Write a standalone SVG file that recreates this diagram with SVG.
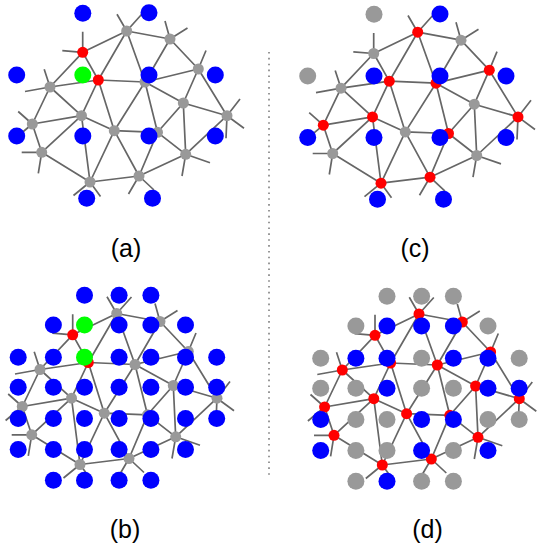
<svg xmlns="http://www.w3.org/2000/svg" xmlns:xlink="http://www.w3.org/1999/xlink" width="540" height="545" viewBox="0 0 540 545">
<style>
.e{stroke:#666;stroke-width:1.7;fill:none}
.g{fill:#999}
.r{fill:#f00}
.b{fill:#00f}
.gr{fill:#0f0}
.lbl{font-family:"Liberation Sans",Arial,sans-serif;font-size:25px;fill:#000;text-anchor:middle}
.sep{stroke:#777;stroke-width:1.5;stroke-dasharray:1.6 4.25}
</style>
<defs>
<path id="mesh" class="e" d="M82.7 52.3L126.7 31M126.7 31L170 39M126.7 31L98.3 80M126.7 31L145 82M170 39L198.3 69M170 39L145 82M82.7 52.3L98.3 80M82.7 52.3L50 87M50 87L98.3 80M98.3 80L145 82M98.3 80L81.5 115.7M98.3 80L114.3 130.7M50 87L81.5 115.7M50 87L32.3 124M145 82L198.3 69M145 82L183.3 103M145 82L114.3 130.7M145 82L157.5 132.3M198.3 69L183.3 103M198.3 69L227 115.7M183.3 103L227 115.7M183.3 103L157.5 132.3M183.3 103L185.7 154.3M227 115.7L185.7 154.3M81.5 115.7L32.3 124M81.5 115.7L114.3 130.7M81.5 115.7L41.7 152.3M81.5 115.7L90 182M32.3 124L41.7 152.3M114.3 130.7L157.5 132.3M114.3 130.7L90 182M114.3 130.7L139 176M157.5 132.3L139 176M157.5 132.3L185.7 154.3M41.7 152.3L90 182M90 182L139 176M185.7 154.3L139 176M126.7 31L117 14.3M126.7 31L141.5 14.5M170 39L165 21M170 39L187.5 28M82.7 52.3L82.7 31.7M82.7 52.3L62.3 50.7M198.3 69L206 50.5M50 87L44.2 69.2M50 87L25 91.5M32.3 124L18.2 111.5M32.3 124L15.6 138M227 115.7L240 99M227 115.7L244 128.3M227 115.7L226 138.3M41.7 152.3L21.7 152.3M41.7 152.3L38.3 173.3M185.7 154.3L210 162.7M185.7 154.3L182 176M90 182L73.5 195.5M90 182L100.5 196.5M139 176L128.5 194M139 176L154 190"/>
</defs>

<line class="sep" x1="269" y1="52" x2="269" y2="478"/>

<!-- Panel (a) -->
<g id="panel-a">
<g id="a-connectors"><use xlink:href="#mesh" href="#mesh"/></g>
<g id="a-mesh-nodes">
<circle id="a-A" class="g" cx="126.7" cy="31" r="5.5"/>
<circle id="a-B" class="g" cx="170" cy="39" r="5.5"/>
<circle id="a-R1" class="r" cx="82.7" cy="52.3" r="5.5"/>
<circle id="a-R2" class="r" cx="98.3" cy="80" r="5.5"/>
<circle id="a-C" class="g" cx="198.3" cy="69" r="5.5"/>
<circle id="a-D" class="g" cx="50" cy="87" r="5.5"/>
<circle id="a-E" class="g" cx="145" cy="82" r="5.5"/>
<circle id="a-F" class="g" cx="183.3" cy="103" r="5.5"/>
<circle id="a-G" class="g" cx="81.5" cy="115.7" r="5.5"/>
<circle id="a-H" class="g" cx="32.3" cy="124" r="5.5"/>
<circle id="a-I" class="g" cx="114.3" cy="130.7" r="5.5"/>
<circle id="a-J" class="g" cx="157.5" cy="132.3" r="5.5"/>
<circle id="a-K" class="g" cx="227" cy="115.7" r="5.5"/>
<circle id="a-L" class="g" cx="41.7" cy="152.3" r="5.5"/>
<circle id="a-M" class="g" cx="185.7" cy="154.3" r="5.5"/>
<circle id="a-N" class="g" cx="90" cy="182" r="5.5"/>
<circle id="a-O" class="g" cx="139" cy="176" r="5.5"/>
</g>
<g id="a-points">
<circle class="b" cx="82.8" cy="13.3" r="8.5"/>
<circle class="b" cx="149" cy="12.8" r="8.5"/>
<circle class="b" cx="16.7" cy="75" r="8.5"/>
<circle class="gr" cx="82.8" cy="75" r="8.5"/>
<circle class="b" cx="149" cy="75" r="8.5"/>
<circle class="b" cx="215.3" cy="75" r="8.5"/>
<circle class="b" cx="16.7" cy="136" r="8.5"/>
<circle class="b" cx="82.8" cy="136" r="8.5"/>
<circle class="b" cx="149" cy="136" r="8.5"/>
<circle class="b" cx="215.3" cy="136" r="8.5"/>
<circle class="b" cx="86.7" cy="198.3" r="8.5"/>
<circle class="b" cx="152.5" cy="198.3" r="8.5"/>
</g>
<text class="lbl" x="126" y="257">(a)</text>
</g>

<!-- Panel (c) -->
<g id="panel-c">
<g id="c-connectors"><use xlink:href="#mesh" href="#mesh" transform="translate(291 1.2)"/></g>
<g id="c-mesh-nodes" transform="translate(291 1.2)">
<circle id="c-A" class="r" cx="126.7" cy="31" r="5.5"/>
<circle id="c-B" class="g" cx="170" cy="39" r="5.5"/>
<circle id="c-R1" class="g" cx="82.7" cy="52.3" r="5.5"/>
<circle id="c-R2" class="r" cx="98.3" cy="80" r="5.5"/>
<circle id="c-C" class="r" cx="198.3" cy="69" r="5.5"/>
<circle id="c-D" class="g" cx="50" cy="87" r="5.5"/>
<circle id="c-E" class="r" cx="145" cy="82" r="5.5"/>
<circle id="c-F" class="g" cx="183.3" cy="103" r="5.5"/>
<circle id="c-G" class="r" cx="81.5" cy="115.7" r="5.5"/>
<circle id="c-H" class="r" cx="32.3" cy="124" r="5.5"/>
<circle id="c-I" class="g" cx="114.3" cy="130.7" r="5.5"/>
<circle id="c-J" class="r" cx="157.5" cy="132.3" r="5.5"/>
<circle id="c-K" class="r" cx="227" cy="115.7" r="5.5"/>
<circle id="c-L" class="g" cx="41.7" cy="152.3" r="5.5"/>
<circle id="c-M" class="g" cx="185.7" cy="154.3" r="5.5"/>
<circle id="c-N" class="r" cx="90" cy="182" r="5.5"/>
<circle id="c-O" class="r" cx="139" cy="176" r="5.5"/>
</g>
<g id="c-points">
<circle class="g" cx="374" cy="14.3" r="8.5"/>
<circle class="b" cx="440" cy="14" r="8.5"/>
<circle class="g" cx="307.7" cy="76" r="8.5"/>
<circle class="b" cx="374" cy="76" r="8.5"/>
<circle class="b" cx="440" cy="76" r="8.5"/>
<circle class="b" cx="506" cy="76" r="8.5"/>
<circle class="b" cx="307.7" cy="137.5" r="8.5"/>
<circle class="b" cx="374" cy="137.5" r="8.5"/>
<circle class="b" cx="440" cy="137.5" r="8.5"/>
<circle class="b" cx="506" cy="137.5" r="8.5"/>
<circle class="b" cx="377.5" cy="199.3" r="8.5"/>
<circle class="b" cx="443.5" cy="199.3" r="8.5"/>
</g>
<text class="lbl" x="415" y="257">(c)</text>
</g>

<!-- Panel (b) -->
<g id="panel-b">
<g id="b-connectors"><use xlink:href="#mesh" href="#mesh" transform="translate(-10 282.5)"/></g>
<g id="b-mesh-nodes" transform="translate(-10 282.5)">
<circle id="b-A" class="g" cx="126.7" cy="31" r="5.5"/>
<circle id="b-B" class="g" cx="170" cy="39" r="5.5"/>
<circle id="b-R1" class="r" cx="82.7" cy="52.3" r="5.5"/>
<circle id="b-R2" class="r" cx="98.3" cy="80" r="5.5"/>
<circle id="b-C" class="g" cx="198.3" cy="69" r="5.5"/>
<circle id="b-D" class="g" cx="50" cy="87" r="5.5"/>
<circle id="b-E" class="g" cx="145" cy="82" r="5.5"/>
<circle id="b-F" class="g" cx="183.3" cy="103" r="5.5"/>
<circle id="b-G" class="g" cx="81.5" cy="115.7" r="5.5"/>
<circle id="b-H" class="g" cx="32.3" cy="124" r="5.5"/>
<circle id="b-I" class="g" cx="114.3" cy="130.7" r="5.5"/>
<circle id="b-J" class="g" cx="157.5" cy="132.3" r="5.5"/>
<circle id="b-K" class="g" cx="227" cy="115.7" r="5.5"/>
<circle id="b-L" class="g" cx="41.7" cy="152.3" r="5.5"/>
<circle id="b-M" class="g" cx="185.7" cy="154.3" r="5.5"/>
<circle id="b-N" class="g" cx="90" cy="182" r="5.5"/>
<circle id="b-O" class="g" cx="139" cy="176" r="5.5"/>
</g>
<g id="b-points">
<circle class="b" cx="84.5" cy="295.2" r="8.5"/><circle class="b" cx="119.1" cy="295.2" r="8.5"/><circle class="b" cx="150.9" cy="295.2" r="8.5"/>
<circle class="b" cx="53.4" cy="325" r="8.5"/><circle class="gr" cx="84.5" cy="325" r="8.5"/><circle class="b" cx="119.1" cy="325" r="8.5"/><circle class="b" cx="150.9" cy="325" r="8.5"/><circle class="b" cx="185.5" cy="325" r="8.5"/>
<circle class="b" cx="18.2" cy="357.3" r="8.5"/><circle class="b" cx="53.4" cy="357.3" r="8.5"/><circle class="gr" cx="84.5" cy="357.3" r="8.5"/><circle class="b" cx="119.1" cy="357.3" r="8.5"/><circle class="b" cx="150.9" cy="357.3" r="8.5"/><circle class="b" cx="185.5" cy="357.3" r="8.5"/><circle class="b" cx="216.7" cy="357.3" r="8.5"/>
<circle class="b" cx="18.2" cy="387.3" r="8.5"/><circle class="b" cx="53.4" cy="387.3" r="8.5"/><circle class="b" cx="84.5" cy="387.3" r="8.5"/><circle class="b" cx="119.1" cy="387.3" r="8.5"/><circle class="b" cx="150.9" cy="387.3" r="8.5"/><circle class="b" cx="185.5" cy="387.3" r="8.5"/><circle class="b" cx="216.7" cy="387.3" r="8.5"/>
<circle class="b" cx="18.2" cy="418.5" r="8.5"/><circle class="b" cx="53.4" cy="418.5" r="8.5"/><circle class="b" cx="84.5" cy="418.5" r="8.5"/><circle class="b" cx="119.1" cy="418.5" r="8.5"/><circle class="b" cx="150.9" cy="418.5" r="8.5"/><circle class="b" cx="185.5" cy="418.5" r="8.5"/><circle class="b" cx="216.7" cy="418.5" r="8.5"/>
<circle class="b" cx="18.2" cy="449.5" r="8.5"/><circle class="b" cx="53.4" cy="449.5" r="8.5"/><circle class="b" cx="84.5" cy="449.5" r="8.5"/><circle class="b" cx="119.1" cy="449.5" r="8.5"/><circle class="b" cx="150.9" cy="449.5" r="8.5"/><circle class="b" cx="185.5" cy="449.5" r="8.5"/>
<circle class="b" cx="53.4" cy="480.3" r="8.5"/><circle class="b" cx="84.5" cy="480.3" r="8.5"/><circle class="b" cx="119.1" cy="480.3" r="8.5"/><circle class="b" cx="150.9" cy="480.3" r="8.5"/>
</g>
<text class="lbl" x="125" y="538">(b)</text>
</g>

<!-- Panel (d) -->
<g id="panel-d">
<g id="d-connectors"><use xlink:href="#mesh" href="#mesh" transform="translate(292.3 283)"/></g>
<g id="d-mesh-nodes" transform="translate(292.3 283)">
<circle id="d-A" class="r" cx="126.7" cy="31" r="5.5"/>
<circle id="d-B" class="r" cx="170" cy="39" r="5.5"/>
<circle id="d-R1" class="r" cx="82.7" cy="52.3" r="5.5"/>
<circle id="d-R2" class="r" cx="98.3" cy="80" r="5.5"/>
<circle id="d-C" class="r" cx="198.3" cy="69" r="5.5"/>
<circle id="d-D" class="r" cx="50" cy="87" r="5.5"/>
<circle id="d-E" class="r" cx="145" cy="82" r="5.5"/>
<circle id="d-F" class="r" cx="183.3" cy="103" r="5.5"/>
<circle id="d-G" class="r" cx="81.5" cy="115.7" r="5.5"/>
<circle id="d-H" class="r" cx="32.3" cy="124" r="5.5"/>
<circle id="d-I" class="r" cx="114.3" cy="130.7" r="5.5"/>
<circle id="d-J" class="r" cx="157.5" cy="132.3" r="5.5"/>
<circle id="d-K" class="r" cx="227" cy="115.7" r="5.5"/>
<circle id="d-L" class="r" cx="41.7" cy="152.3" r="5.5"/>
<circle id="d-M" class="r" cx="185.7" cy="154.3" r="5.5"/>
<circle id="d-N" class="r" cx="90" cy="182" r="5.5"/>
<circle id="d-O" class="r" cx="139" cy="176" r="5.5"/>
</g>
<g id="d-points">
<circle class="g" cx="387" cy="296.2" r="8.5"/><circle class="g" cx="421.6" cy="296.2" r="8.5"/><circle class="g" cx="453.4" cy="296.2" r="8.5"/>
<circle class="g" cx="355.9" cy="326" r="8.5"/><circle class="b" cx="387" cy="326" r="8.5"/><circle class="b" cx="421.6" cy="326" r="8.5"/><circle class="b" cx="453.4" cy="326" r="8.5"/><circle class="g" cx="488" cy="326" r="8.5"/>
<circle class="g" cx="320.7" cy="358.3" r="8.5"/><circle class="b" cx="355.9" cy="358.3" r="8.5"/><circle class="b" cx="387" cy="358.3" r="8.5"/><circle class="g" cx="421.6" cy="358.3" r="8.5"/><circle class="b" cx="453.4" cy="358.3" r="8.5"/><circle class="b" cx="488" cy="358.3" r="8.5"/><circle class="g" cx="519.2" cy="358.3" r="8.5"/>
<circle class="g" cx="320.7" cy="388.3" r="8.5"/><circle class="g" cx="355.9" cy="388.3" r="8.5"/><circle class="b" cx="387" cy="388.3" r="8.5"/><circle class="g" cx="421.6" cy="388.3" r="8.5"/><circle class="g" cx="453.4" cy="388.3" r="8.5"/><circle class="b" cx="488" cy="388.3" r="8.5"/><circle class="b" cx="519.2" cy="388.3" r="8.5"/>
<circle class="b" cx="320.7" cy="419.5" r="8.5"/><circle class="g" cx="355.9" cy="419.5" r="8.5"/><circle class="g" cx="387" cy="419.5" r="8.5"/><circle class="b" cx="421.6" cy="419.5" r="8.5"/><circle class="b" cx="453.4" cy="419.5" r="8.5"/><circle class="g" cx="488" cy="419.5" r="8.5"/><circle class="g" cx="519.2" cy="419.5" r="8.5"/>
<circle class="b" cx="320.7" cy="450.5" r="8.5"/><circle class="g" cx="355.9" cy="450.5" r="8.5"/><circle class="g" cx="387" cy="450.5" r="8.5"/><circle class="b" cx="421.6" cy="450.5" r="8.5"/><circle class="g" cx="453.4" cy="450.5" r="8.5"/><circle class="b" cx="488" cy="450.5" r="8.5"/>
<circle class="g" cx="355.9" cy="481.3" r="8.5"/><circle class="b" cx="387" cy="481.3" r="8.5"/><circle class="g" cx="421.6" cy="481.3" r="8.5"/><circle class="g" cx="453.4" cy="481.3" r="8.5"/>
</g>
<text class="lbl" x="427.5" y="538">(d)</text>
</g>
</svg>
